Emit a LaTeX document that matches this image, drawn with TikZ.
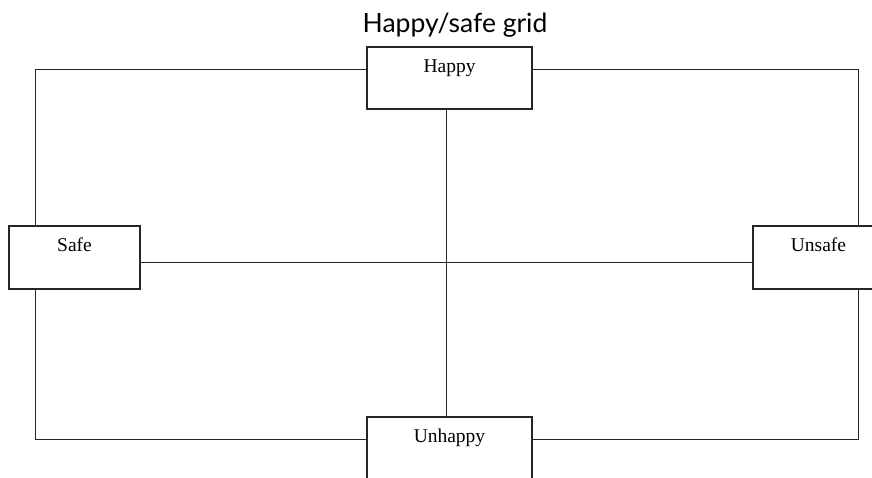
\documentclass[tikz,border=0pt]{standalone}
\usepackage{fontspec}
\setmainfont{Liberation Serif}
\newfontfamily\titlefont{Lato}
\begin{document}
\begin{tikzpicture}[x=1pt,y=-1pt,
  gridbox/.style={draw=black!85,line width=1.1pt,fill=white,inner sep=0pt},
  hbox/.style={gridbox,minimum width=165pt,minimum height=62pt},
  vbox/.style={gridbox,minimum width=131pt,minimum height=63pt},
  boxlabel/.style={font=\fontsize{19.5}{22}\selectfont,anchor=base},
  link/.style={draw=black!85,line width=0.9pt}]
\clip (0,0) rectangle (872,477);
\fill[white] (0,0) rectangle (872,477);

\node[font=\titlefont\fontsize{26.5}{30}\selectfont,anchor=base] (title) at (455,32) {Happy/safe grid};

% the four quadrant boxes
\node[hbox] (happy)   at (449.5,78)  {};
\node[hbox] (unhappy) at (449.5,448) {};
\node[vbox] (safe)    at (74.5,257.5) {};
\node[vbox] (unsafe)  at (818.5,257.5) {};

% outer frame joining the boxes
\draw[link] ([yshift=9pt]happy.west) -| ([xshift=-39.5pt]safe.north);
\draw[link] ([yshift=9pt]happy.east) -| ([xshift=39.5pt]unsafe.north);
\draw[link] ([xshift=-39.5pt]safe.south) |- ([yshift=9pt]unhappy.west);
\draw[link] ([xshift=39.5pt]unsafe.south) |- ([yshift=9pt]unhappy.east);

% the two axes
\draw[link] ([xshift=-3.5pt]happy.south) -- ([xshift=-3.5pt]unhappy.north);
\draw[link] ([yshift=-4.5pt]safe.east) -- ([yshift=-4.5pt]unsafe.west);

% labels near the top of each box
\node[boxlabel] (lhappy)   at ([yshift=-26pt]happy.north)   {Happy};
\node[boxlabel] (lunhappy) at ([yshift=-26pt]unhappy.north) {Unhappy};
\node[boxlabel] (lsafe)    at ([yshift=-26.5pt]safe.north)  {Safe};
\node[boxlabel] (lunsafe)  at ([yshift=-26.5pt]unsafe.north) {Unsafe};
\end{tikzpicture}
\end{document}
